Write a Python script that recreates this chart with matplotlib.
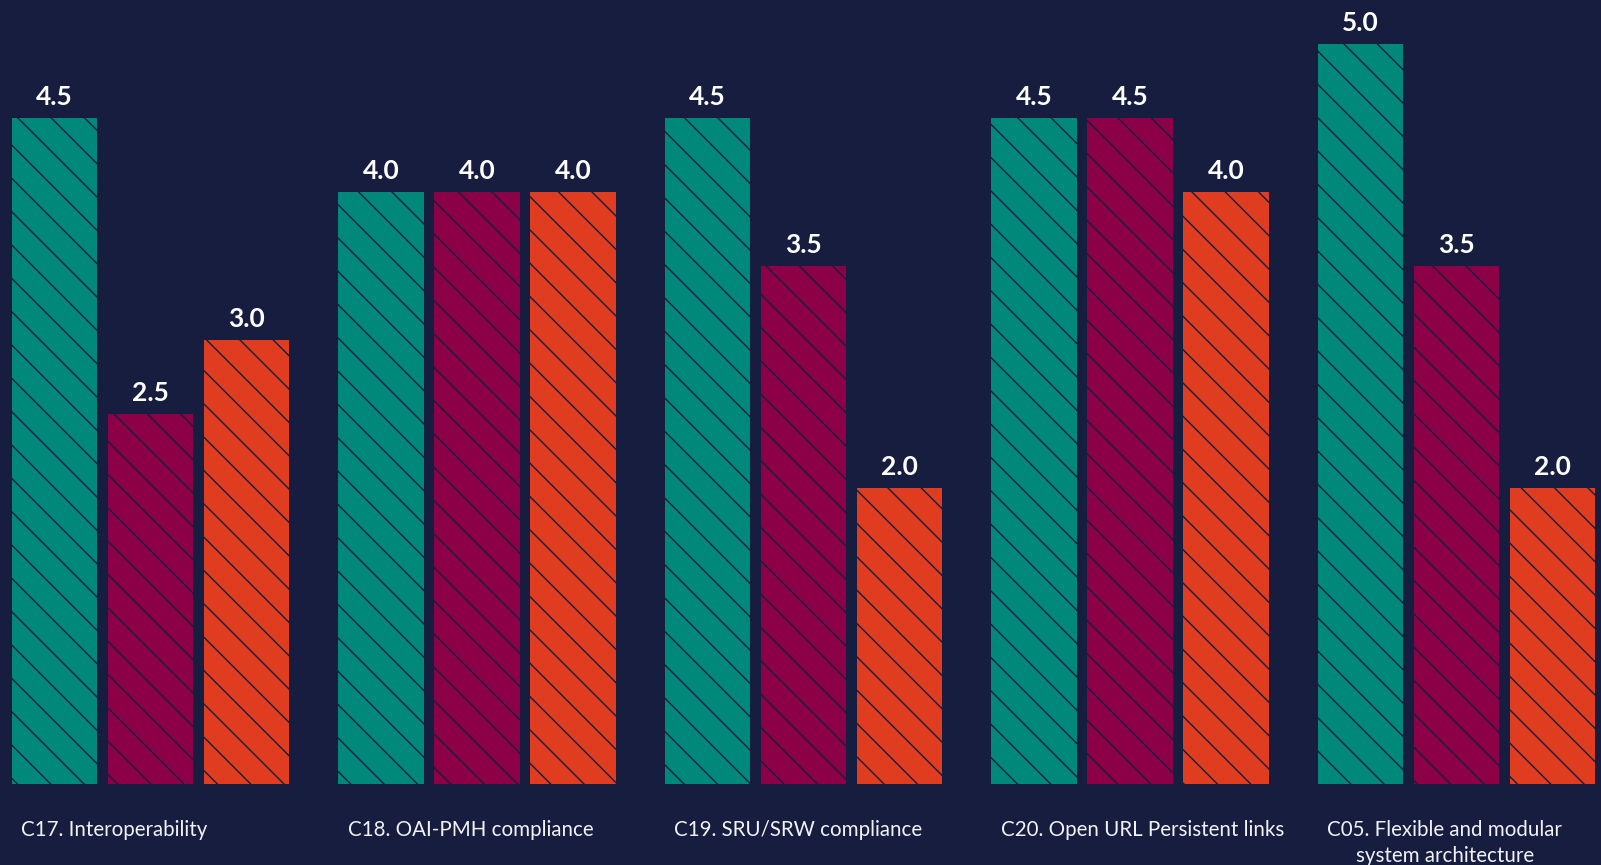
import matplotlib
matplotlib.use("Agg")
import matplotlib.pyplot as plt
import numpy as np

categories = [
    "C17. Interoperability",
    "C18. OAI-PMH compliance",
    "C19. SRU/SRW compliance",
    "C20. Open URL Persistent links",
    "C05. Flexible and modular\nsystem architecture",
]
series_a = [4.5, 4.0, 4.5, 4.5, 5.0]
series_b = [2.5, 4.0, 3.5, 4.5, 3.5]
series_c = [3.0, 4.0, 2.0, 4.0, 2.0]

BG = "#161d3e"
COLORS = ["#00897b", "#8c0047", "#e03c1f"]

plt.rcParams["hatch.linewidth"] = 1.0

fig = plt.figure(figsize=(16.01, 8.65), dpi=100, facecolor=BG)
ax = fig.add_axes([0, 0, 1, 1])
ax.set_facecolor(BG)

x = np.arange(len(categories))
step = 0.294
width = 0.263
for i, (vals, col) in enumerate(zip([series_a, series_b, series_c], COLORS)):
    pos = x + (i - 1) * step
    ax.bar(pos, vals, width=width, color=col, edgecolor=BG, linewidth=0,
           hatch="\\")
    for px, v in zip(pos, vals):
        ax.text(px, v + 0.06, f"{v:.1f}", ha="center", va="bottom",
                color="white", fontsize=19, fontweight="bold", family="Lato")

group_left = x - step - width / 2
for gl, label in zip(group_left, categories):
    ax.text(gl + 0.03, -0.24, label, ha="left", va="top", color="#f2f2f6",
            fontsize=14.8, family="Lato", fontweight="normal",
            multialignment="center", linespacing=1.4)

ax.set_xlim(-0.461, 4.4425)
ax.set_ylim(-0.545, 5.297)
ax.axis("off")

fig.savefig("out.png", dpi=100, facecolor=BG)
